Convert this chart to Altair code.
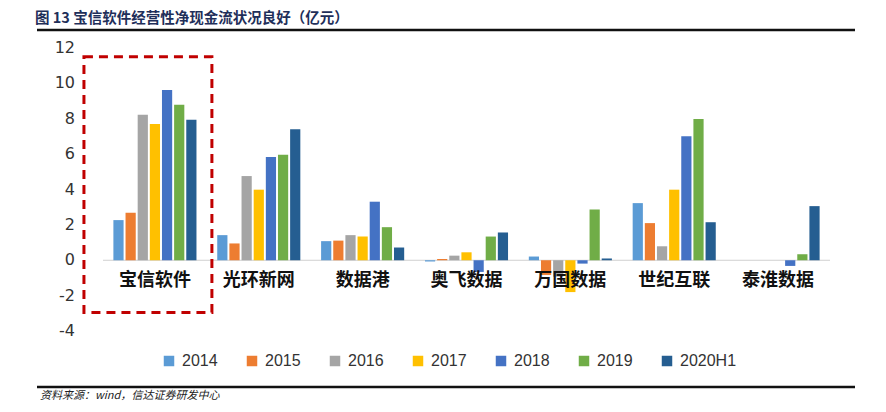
import altair as alt
import pandas as pd

companies = ["宝信软件", "光环新网", "数据港", "奥飞数据", "万国数据", "世纪互联", "泰淮数据"]
years = ["2014", "2015", "2016", "2017", "2018", "2019", "2020H1"]
colors = ["#5B9BD5", "#ED7D31", "#A5A5A5", "#FFC000", "#4472C4", "#70AD47", "#255E91"]

v2014 = [2.27, 1.42, 1.08, -0.07, 0.21, 3.23, 0.0]
v2015 = [2.68, 0.95, 1.11, 0.07, -0.83, 2.10, 0.0]
v2016 = [8.22, 4.76, 1.42, 0.26, -0.93, 0.79, 0.0]
v2017 = [7.71, 3.99, 1.34, 0.45, -1.80, 3.99, 0.0]
v2018 = [9.62, 5.84, 3.31, -0.66, -0.19, 7.01, -0.32]
v2019 = [8.79, 5.97, 1.87, 1.34, 2.87, 7.99, 0.34]
v2020 = [7.94, 7.41, 0.72, 1.57, 0.10, 2.15, 3.06]

series = [v2014, v2015, v2016, v2017, v2018, v2019, v2020]
rows = []
for y, vals in zip(years, series):
    for c, v in zip(companies, vals):
        rows.append({"company": c, "year": y, "value": v})
df = pd.DataFrame(rows)

labels_df = pd.DataFrame({"company": companies, "value": [0.0] * len(companies)})
highlight_df = pd.DataFrame({"company": ["宝信软件"], "value": [11.5], "value2": [-2.95]})
zero_df = pd.DataFrame({"value": [0.0]})
y_ticks = [-4, -2, 0, 2, 4, 6, 8, 10, 12]
ticks_df = pd.DataFrame({"value": [float(t) for t in y_ticks], "txt": [str(t) for t in y_ticks]})
title_text = "图 13 宝信软件经营性净现金流状况良好（亿元）"
source_text = "资料来源：wind，信达证券研发中心"

W, H = 727, 283

xscale = alt.Scale(domain=companies, paddingInner=0.2, paddingOuter=0.1)
yscale = alt.Scale(domain=[-4, 12])

bars = alt.Chart(df).mark_bar().encode(
    x=alt.X("company:N", sort=companies, scale=xscale, axis=None),
    xOffset=alt.XOffset("year:N", sort=years,
                        scale=alt.Scale(domain=years, paddingInner=0.16, paddingOuter=0)),
    y=alt.Y("value:Q", scale=yscale),
    color=alt.Color("year:N", sort=years, scale=alt.Scale(domain=years, range=colors),
                    legend=alt.Legend(orient="none", legendX=58, legendY=305, direction="horizontal",
                                      title=None, symbolType="square", symbolSize=110,
                                      symbolStrokeWidth=0, labelFontSize=16,
                                      labelFont="Liberation Sans", labelColor="#333333",
                                      columnPadding=26, labelOffset=5)),
)

zero = alt.Chart(zero_df).mark_rule(color="#D0D0D0", strokeWidth=1).encode(
    y=alt.Y("value:Q", scale=yscale)
)

tick_labels = alt.Chart(ticks_df).mark_text(
    align="right", baseline="middle", fontSize=16, font="DejaVu Sans", color="#333333"
).encode(
    x=alt.value(-28),
    y=alt.Y("value:Q", scale=yscale),
    text="txt:N",
)

cat_labels = alt.Chart(labels_df).mark_text(
    fontSize=18, font="Noto Sans CJK SC", fontWeight="bold", color="#111111", dy=21, baseline="middle"
).encode(
    x=alt.X("company:N", sort=companies, scale=xscale, axis=None, bandPosition=0.5),
    y=alt.Y("value:Q", scale=yscale),
    text="company:N",
)

highlight = alt.Chart(highlight_df).mark_bar(
    width={"band": 1.54}, xOffset=-7, fill="transparent", stroke="#C00000",
    strokeWidth=3, strokeDash=[9, 6]
).encode(
    x=alt.X("company:N", sort=companies, scale=xscale, axis=None),
    y=alt.Y("value:Q", scale=yscale),
    y2="value2:Q",
)

top_rule = alt.Chart(pd.DataFrame({"a": [0]})).mark_rule(color="#111111", strokeWidth=2.5).encode(
    x=alt.value(-66), x2=alt.value(752), y=alt.value(-18)
)
bottom_rule = alt.Chart(pd.DataFrame({"a": [0]})).mark_rule(color="#111111", strokeWidth=2.5).encode(
    x=alt.value(-66), x2=alt.value(752), y=alt.value(339)
)
title = alt.Chart(pd.DataFrame({"t": [title_text]})).mark_text(
    align="left", baseline="middle", fontSize=14.5, font="Noto Sans CJK SC", fontWeight="bold",
    color="#1F2F5A"
).encode(x=alt.value(-68), y=alt.value(-29), text="t:N")
source = alt.Chart(pd.DataFrame({"t": [source_text]})).mark_text(
    align="left", baseline="middle", fontSize=11, font="Noto Sans CJK SC", fontStyle="italic",
    color="#222222"
).encode(x=alt.value(-63), y=alt.value(348), text="t:N")

chart = alt.layer(zero, bars, tick_labels, cat_labels, highlight, top_rule, bottom_rule, title, source).properties(
    width=W, height=H,
    autosize=alt.AutoSizeParams(type="none"),
    padding={"left": 95, "top": 40, "right": 40, "bottom": 70},
).configure_view(stroke=None).configure_axisY(
    labels=False, ticks=False, domain=False, grid=False, titleOpacity=0
)

chart.save("out.html", embed_options={"renderer": "svg", "actions": False})
